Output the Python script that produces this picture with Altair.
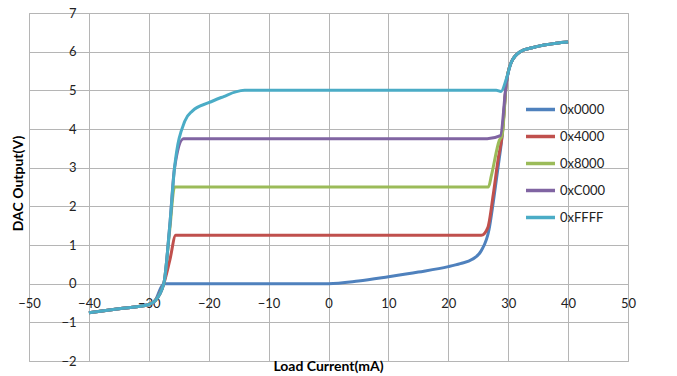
import altair as alt
import pandas as pd

series_names = ["0x0000", "0x4000", "0x8000", "0xC000", "0xFFFF"]
colors = ["#4F81BD", "#C0504D", "#9BBB59", "#8064A2", "#4BACC6"]

x_0000 = [-40, -35, -30, -29, -27.5, -27, -10, 0, 5, 10, 15, 20, 22, 24, 25.5, 26.8, 27.5, 28.3, 29, 29.7, 30.5, 32, 34, 36, 38, 40]
y_0000 = [-0.75, -0.65, -0.54, -0.45, 0.0, 0.0, 0.0, 0.0, 0.07, 0.18, 0.3, 0.44, 0.52, 0.63, 0.85, 1.4, 2.1, 3.0, 3.85, 5.2, 5.72, 6.0, 6.1, 6.17, 6.22, 6.25]

x_4000 = [-40, -35, -30, -29, -27.5, -26.5, -25.5, 0, 25.5, 26.6, 27.5, 28.3, 29, 29.7, 30.5, 32, 34, 36, 38, 40]
y_4000 = [-0.75, -0.65, -0.54, -0.45, 0.0, 0.6, 1.25, 1.25, 1.25, 1.45, 2.3, 3.2, 3.85, 5.2, 5.72, 6.0, 6.1, 6.17, 6.22, 6.25]

x_8000 = [-40, -35, -30, -29, -27.5, -26.5, -25.7, 0, 26.7, 27.2, 28.5, 29, 29.7, 30.5, 32, 34, 36, 38, 40]
y_8000 = [-0.75, -0.65, -0.54, -0.45, 0.0, 1.4, 2.5, 2.5, 2.5, 2.8, 3.7, 3.85, 5.2, 5.72, 6.0, 6.1, 6.17, 6.22, 6.25]

x_C000 = [-40, -35, -30, -29, -27.5, -26.5, -25.7, -24.2, 0, 26.5, 28.7, 29.7, 30.5, 32, 34, 36, 38, 40]
y_C000 = [-0.75, -0.65, -0.54, -0.45, 0.0, 1.5, 3.0, 3.75, 3.75, 3.75, 3.83, 5.2, 5.72, 6.0, 6.1, 6.17, 6.22, 6.25]

x_FFFF = [-40, -35, -30, -29, -27.5, -26.5, -25.7, -24, -22.7, -20, -17.5, -15.5, -14, 0, 28, 28.8, 29.7, 30.5, 32, 34, 36, 38, 40]
y_FFFF = [-0.75, -0.65, -0.54, -0.45, 0.0, 1.5, 3.0, 4.2, 4.47, 4.68, 4.84, 4.96, 5.0, 5.0, 5.0, 4.97, 5.3, 5.72, 6.0, 6.1, 6.17, 6.22, 6.25]

x_ticks = [-50, -40, -30, -20, -10, 0, 10, 20, 30, 40, 50]
y_ticks = [-2, -1, 0, 1, 2, 3, 4, 5, 6, 7]

rows = []
for name, xs, ys in zip(series_names,
                        [x_0000, x_4000, x_8000, x_C000, x_FFFF],
                        [y_0000, y_4000, y_8000, y_C000, y_FFFF]):
    for i, (xv, yv) in enumerate(zip(xs, ys)):
        rows.append({"series": name, "x": xv, "y": yv, "idx": i})
df = pd.DataFrame(rows)

FONT = "Lato"

chart = alt.Chart(df).mark_line(strokeWidth=3, interpolate="monotone").encode(
    x=alt.X("x:Q",
            scale=alt.Scale(domain=[-50, 50], nice=False, zero=False),
            axis=alt.Axis(values=x_ticks, title="Load Current(mA)", grid=True,
                          ticks=False, domain=False, labelPadding=-64,
                          labelFlush=False, labelFontSize=13, labelColor="#222",
                          labelFont=FONT, titleFont=FONT, titleFontSize=14,
                          titleFontWeight="bold", titleColor="#000",
                          titleY=-2, titleBaseline="top", titleX=299)),
    y=alt.Y("y:Q",
            scale=alt.Scale(domain=[-2, 7], nice=False, zero=False),
            axis=alt.Axis(values=y_ticks, title="DAC Output(V)", grid=True,
                          ticks=False, domain=False, labelPadding=-47,
                          labelFlush=False, labelFontSize=13, labelColor="#222",
                          labelFont=FONT, titleFont=FONT, titleFontSize=14,
                          titleFontWeight="bold", titleColor="#000",
                          titleX=-11, titleY=170, titleBaseline="middle")),
    color=alt.Color("series:N",
                    scale=alt.Scale(domain=series_names, range=colors),
                    legend=alt.Legend(title=None, orient="none", legendX=495, legendY=80,
                                      symbolType="stroke", symbolSize=841,
                                      symbolStrokeWidth=3.5, labelFontSize=13,
                                      labelFont=FONT, labelColor="#222",
                                      rowPadding=3, labelOffset=3, padding=0)),
    order="idx:Q",
).properties(
    width=599, height=348,
    padding={"left": 29, "top": 13, "right": 49, "bottom": 15},
    autosize=alt.AutoSizeParams(type="none"),
).configure_view(
    stroke="#b5b5b5", strokeWidth=1
).configure_axis(
    gridColor="#b5b5b5", gridWidth=1, gridOpacity=1
)

chart.save("out.html", embed_options={"renderer": "svg", "actions": False})
